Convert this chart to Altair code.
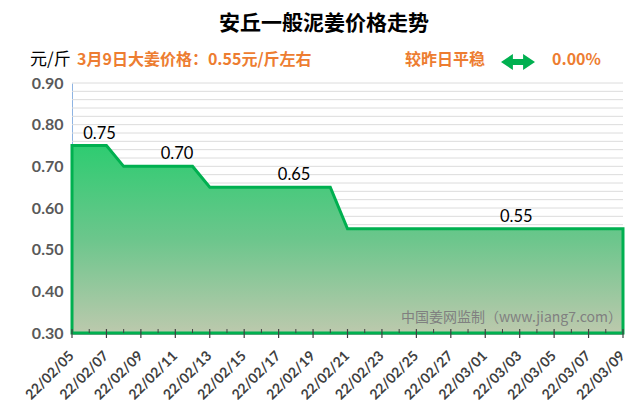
import altair as alt
import pandas as pd

# ---- data ----
dates = [
    "22/02/05", "22/02/06", "22/02/07", "22/02/08", "22/02/09", "22/02/10",
    "22/02/11", "22/02/12", "22/02/13", "22/02/14", "22/02/15", "22/02/16",
    "22/02/17", "22/02/18", "22/02/19", "22/02/20", "22/02/21", "22/02/22",
    "22/02/23", "22/02/24", "22/02/25", "22/02/26", "22/02/27", "22/02/28",
    "22/03/01", "22/03/02", "22/03/03", "22/03/04", "22/03/05", "22/03/06",
    "22/03/07", "22/03/08", "22/03/09",
]
prices = [
    0.75, 0.75, 0.75,
    0.70, 0.70, 0.70, 0.70, 0.70,
    0.65, 0.65, 0.65, 0.65, 0.65, 0.65, 0.65, 0.65,
    0.55, 0.55, 0.55, 0.55, 0.55, 0.55, 0.55, 0.55, 0.55,
    0.55, 0.55, 0.55, 0.55, 0.55, 0.55, 0.55, 0.55,
]
label_pos = [1.6, 6.1, 12.9, 25.8]
label_vals = [0.75, 0.70, 0.65, 0.55]
y_ticks = [0.30, 0.40, 0.50, 0.60, 0.70, 0.80, 0.90]
grid_vals = [0.30, 0.32, 0.34, 0.36, 0.38, 0.40, 0.42, 0.44, 0.46, 0.48,
             0.50, 0.52, 0.54, 0.56, 0.58, 0.60, 0.62, 0.64, 0.66, 0.68,
             0.70, 0.72, 0.74, 0.76, 0.78, 0.80, 0.82, 0.84, 0.86, 0.88, 0.90]

title_text = "安丘一般泥姜价格走势"
unit_text = "元/斤"
price_note = "3月9日大姜价格：0.55元/斤左右"
trend_text = "较昨日平稳"
change_text = "0.00%"
watermark = "中国姜网监制（www.jiang7.com）"

df = pd.DataFrame({"i": list(range(len(dates))), "date": dates, "price": prices})
df_major = df[df["i"] % 2 == 0]
df_minor = df[df["i"] % 2 == 1]
df_labels = pd.DataFrame({"pos": label_pos, "val": label_vals})
df_grid = pd.DataFrame({"g": grid_vals})

W, H = 551, 250
ORANGE = "#ED7D31"
GREEN = "#00B050"
AXIS = "#404040"
CJK = "Noto Sans CJK SC"

xs = alt.Scale(domain=[0, len(dates) - 1], nice=False, zero=False)
ys = alt.Scale(domain=[0.3, 0.9], nice=False, zero=False)

grid = alt.Chart(df_grid).mark_rule(color="#DCDCDC", strokeWidth=1).encode(
    y=alt.Y("g:Q", scale=ys, axis=alt.Axis(
        values=y_ticks, format=".2f", ticks=False,
        labelFont="Lato", labelFontWeight="bold", labelFontSize=16,
        labelColor="#595959", labelPadding=9,
        domainColor="#8EB4E3", domainWidth=1, grid=False, title=None,
    )),
    x=alt.value(0), x2=alt.value(W),
)

area = alt.Chart(df).mark_area(
    stroke=GREEN, strokeWidth=3,
    fill=alt.Gradient(
        gradient="linear", x1=0, x2=0, y1=0, y2=1,
        stops=[
            alt.GradientStop(color="#2ECC71", offset=0),
            alt.GradientStop(color="#6CC68C", offset=0.5),
            alt.GradientStop(color="#BCC9AD", offset=1),
        ],
    ),
).encode(
    x=alt.X("i:Q", scale=xs, axis=alt.Axis(
        values=list(range(0, len(dates), 2)), labels=False, ticks=False,
        domainColor=AXIS, domainWidth=2, grid=False, title=None,
    )),
    y=alt.Y("price:Q", scale=ys),
    y2=alt.datum(0.3),
)

major_ticks = alt.Chart(df_major).mark_rule(color=AXIS, strokeWidth=1.2).encode(
    x=alt.X("i:Q", scale=xs), y=alt.value(H - 4), y2=alt.value(H + 5)
)
minor_ticks = alt.Chart(df_minor).mark_rule(color=AXIS, strokeWidth=1).encode(
    x=alt.X("i:Q", scale=xs), y=alt.value(H - 4), y2=alt.value(H)
)

xlabels = alt.Chart(df_major).mark_text(
    angle=315, align="right", baseline="middle", font="Lato",
    fontWeight="bold", fontSize=14, color=AXIS, dx=0,
).encode(x=alt.X("i:Q", scale=xs), y=alt.value(H + 21), text="date:N")

labels = alt.Chart(df_labels).mark_text(
    dy=-12, fontSize=16.5, font="Lato", color="#000000", baseline="middle"
).encode(
    x=alt.X("pos:Q", scale=xs), y=alt.Y("val:Q", scale=ys),
    text=alt.Text("val:Q", format=".2f"),
)


def txt(text, x, y, size, color, weight="normal", align="left", font=CJK):
    return alt.Chart(pd.DataFrame({"t": [text]})).mark_text(
        align=align, baseline="middle", fontSize=size, color=color,
        fontWeight=weight, font=font,
    ).encode(x=alt.value(x), y=alt.value(y), text="t:N")


arrow_path = ("M -1 0 L -0.3 -0.47 L -0.3 -0.17 L 0.3 -0.17 L 0.3 -0.47 "
              "L 1 0 L 0.3 0.47 L 0.3 0.17 L -0.3 0.17 L -0.3 0.47 Z")
arrow = alt.Chart(pd.DataFrame({"t": [0]})).mark_point(
    shape=arrow_path, filled=True, color=GREEN, opacity=1, size=1156, strokeWidth=0
).encode(x=alt.value(446), y=alt.value(-21))

chart = alt.layer(
    grid,
    area,
    major_ticks,
    minor_ticks,
    xlabels,
    labels,
    txt(title_text, 252, -59, 21, "#000000", weight="bold", align="center"),
    txt(unit_text, -42, -23, 17, "#000000"),
    txt(price_note, 5, -23, 16, ORANGE, weight="bold"),
    txt(trend_text, 333, -23, 16, ORANGE, weight="bold"),
    arrow,
    txt(change_text, 480, -23, 16, ORANGE, weight="bold"),
    txt(watermark, 550, 235, 14, "#808080", align="right"),
).properties(
    width=W, height=H,
    padding={"left": 64, "top": 75, "right": 9, "bottom": 69},
    autosize=alt.AutoSizeParams(type="none"),
).configure_view(strokeWidth=0)

chart.save("out.html", embed_options={"renderer": "svg", "actions": False})
